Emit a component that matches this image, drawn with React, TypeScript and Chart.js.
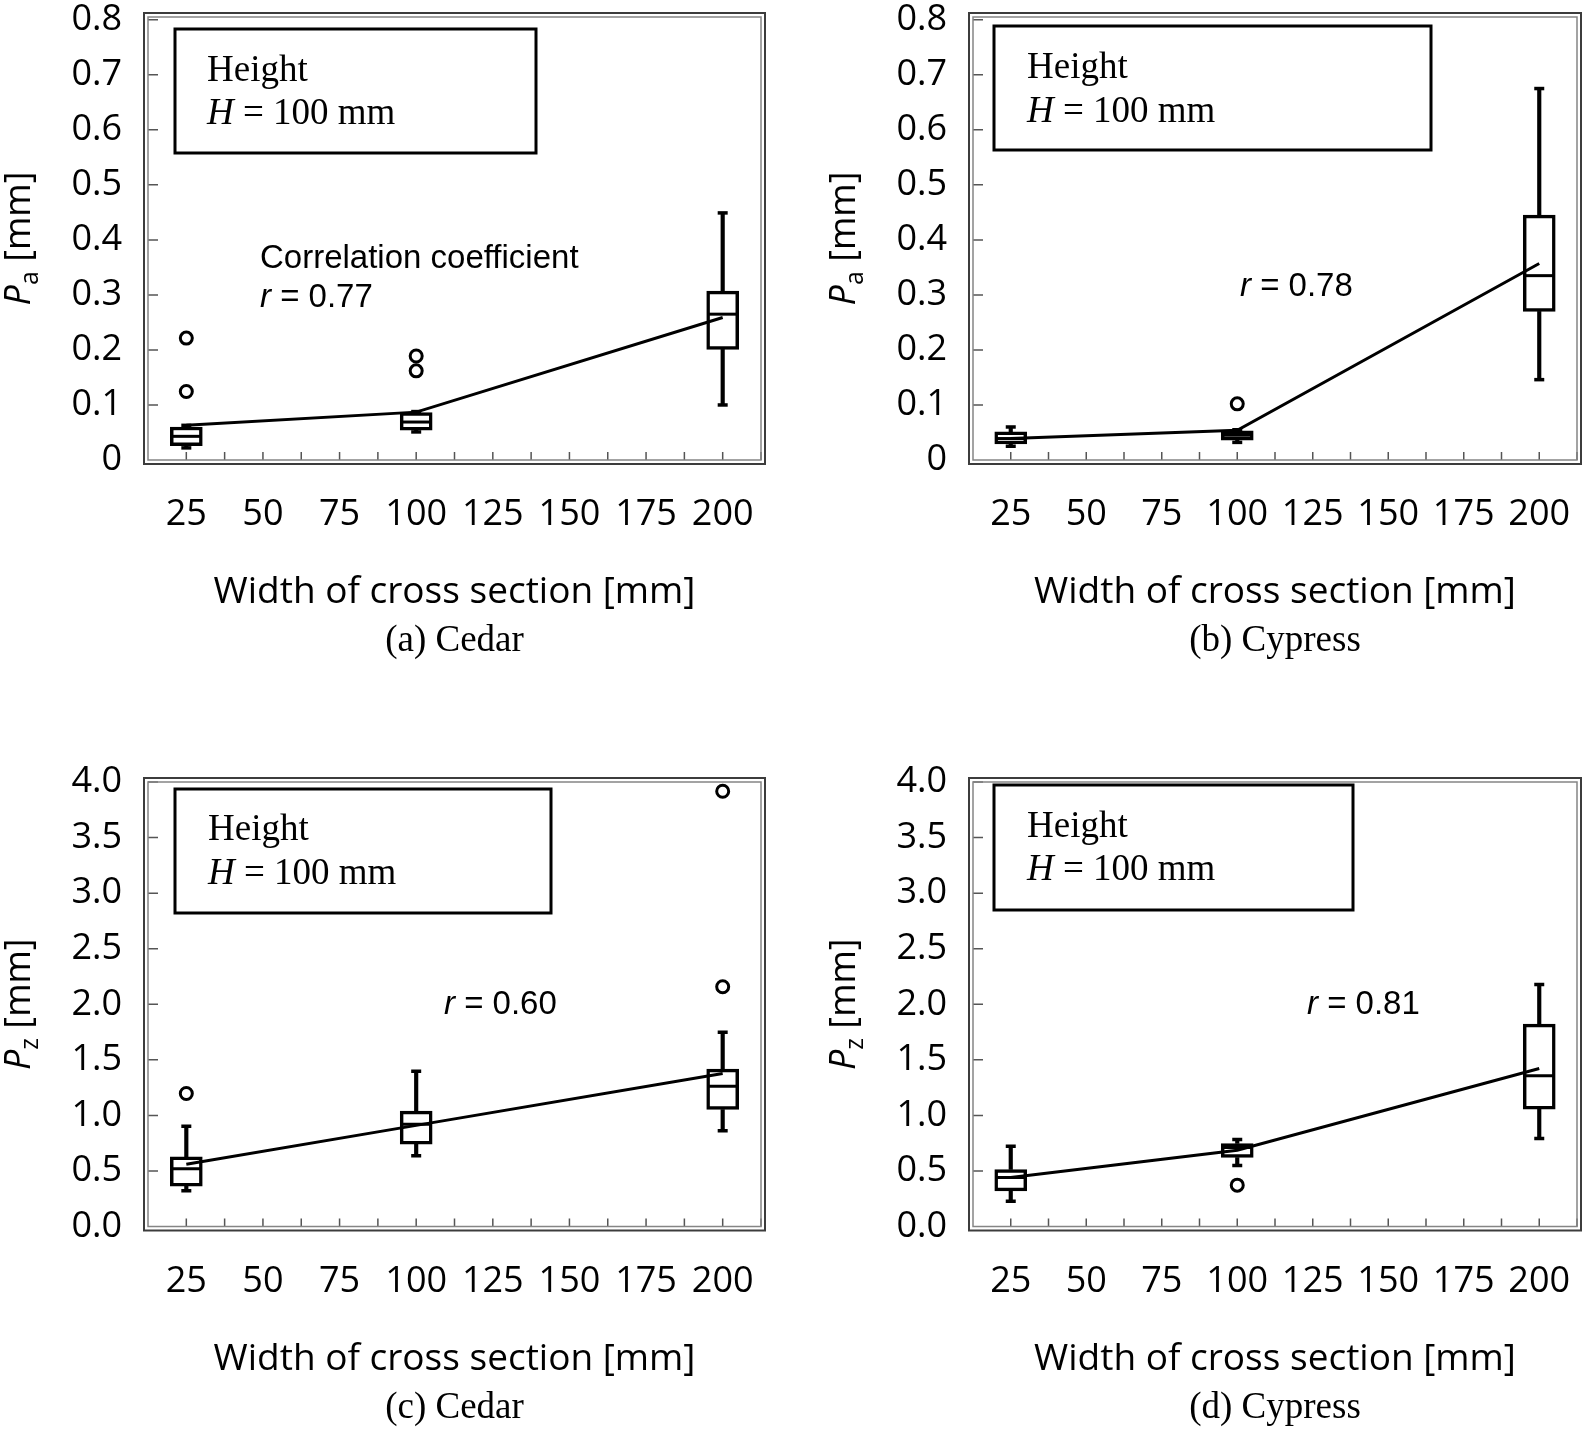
import React, { useEffect, useRef } from 'react';
import { Chart, registerables } from 'chart.js';

Chart.register(...registerables);

// ---------- data ----------
const widths = [25, 100, 200];
const xTickLabels = [25, 50, 75, 100, 125, 150, 175, 200];
const xMinorTicks = [25, 37.5, 50, 62.5, 75, 87.5, 100, 112.5, 125, 137.5, 150, 162.5, 175, 187.5, 200, 212.5];
const yTicksPa = [0, 0.1, 0.2, 0.3, 0.4, 0.5, 0.6, 0.7, 0.8];
const yTicksPz = [0, 0.5, 1.0, 1.5, 2.0, 2.5, 3.0, 3.5, 4.0];

// (a) Cedar, Pa
const aLow = [0.022, 0.051, 0.100];
const aQ1 = [0.026, 0.054, 0.201];
const aMed = [0.043, 0.069, 0.265];
const aQ3 = [0.060, 0.086, 0.307];
const aHigh = [0.063, 0.088, 0.449];
const aMean = [0.063, 0.087, 0.259];
const aOutX = [25, 25, 100, 100];
const aOutY = [0.2215, 0.1245, 0.189, 0.162];

// (b) Cypress, Pa
const bLow = [0.025, 0.032, 0.146];
const bQ1 = [0.029, 0.036, 0.270];
const bMed = [0.039, 0.045, 0.335];
const bQ3 = [0.051, 0.053, 0.445];
const bHigh = [0.060, 0.055, 0.675];
const bMean = [0.039, 0.054, 0.357];
const bOutX = [100];
const bOutY = [0.102];

// (c) Cedar, Pz
const cLow = [0.321, 0.636, 0.861];
const cQ1 = [0.363, 0.741, 1.053];
const cMed = [0.519, 0.921, 1.263];
const cQ3 = [0.627, 1.038, 1.416];
const cHigh = [0.903, 1.398, 1.749];
const cMean = [0.561, 0.91, 1.377];
const cOutX = [25, 200, 200];
const cOutY = [1.197, 2.157, 3.917];

// (d) Cypress, Pz
const dLow = [0.228, 0.549, 0.792];
const dQ1 = [0.321, 0.621, 1.056];
const dMed = [0.441, 0.71, 1.356];
const dQ3 = [0.513, 0.747, 1.821];
const dHigh = [0.723, 0.783, 2.178];
const dMean = [0.441, 0.687, 1.422];
const dOutX = [100];
const dOutY = [0.372];

// ---------- panel setup ----------
type Note = { x: number; y: number; italic: string; rest: string };
type PanelCfg = {
  left: number; top: number;
  pad: { left: number; top: number; right: number; bottom: number };
  yMax: number; yTicks: number[]; yFmt: (v: number) => string; sub: string;
  low: number[]; q1: number[]; med: number[]; q3: number[]; high: number[]; mean: number[];
  outX: number[]; outY: number[];
  caption: string;
  box: { x: number; y: number; w: number; h: number };
  textX: number; line1: number; line2: number;
  notes: Note[];
};

const fmtPa = (v: number) => (v === 0 ? '0' : v.toFixed(1));
const fmtPz = (v: number) => v.toFixed(1);

const panels: PanelCfg[] = [
  {
    left: 0, top: 0, pad: { left: 28, top: 12, right: 36, bottom: 55 },
    yMax: 0.805, yTicks: yTicksPa, yFmt: fmtPa, sub: 'a',
    low: aLow, q1: aQ1, med: aMed, q3: aQ3, high: aHigh, mean: aMean, outX: aOutX, outY: aOutY,
    caption: '(a) Cedar',
    box: { x: 27, y: 12, w: 361, h: 124 }, textX: 59, line1: 64, line2: 107,
    notes: [
      { x: 112, y: 251, italic: '', rest: 'Correlation coefficient' },
      { x: 112, y: 290, italic: 'r', rest: ' = 0.77' },
    ],
  },
  {
    left: 797, top: 0, pad: { left: 56, top: 12, right: 8, bottom: 55 },
    yMax: 0.805, yTicks: yTicksPa, yFmt: fmtPa, sub: 'a',
    low: bLow, q1: bQ1, med: bMed, q3: bQ3, high: bHigh, mean: bMean, outX: bOutX, outY: bOutY,
    caption: '(b) Cypress',
    box: { x: 21, y: 9, w: 437, h: 124 }, textX: 54, line1: 61, line2: 105,
    notes: [{ x: 267, y: 279, italic: 'r', rest: ' = 0.78' }],
  },
  {
    left: 0, top: 715, pad: { left: 28, top: 67, right: 36, bottom: 3.5 },
    yMax: 4.0, yTicks: yTicksPz, yFmt: fmtPz, sub: 'z',
    low: cLow, q1: cQ1, med: cMed, q3: cQ3, high: cHigh, mean: cMean, outX: cOutX, outY: cOutY,
    caption: '(c) Cedar',
    box: { x: 27, y: 7, w: 376, h: 124 }, textX: 60, line1: 58, line2: 102,
    notes: [{ x: 296, y: 232, italic: 'r', rest: ' = 0.60' }],
  },
  {
    left: 797, top: 715, pad: { left: 56, top: 67, right: 8, bottom: 3.5 },
    yMax: 4.0, yTicks: yTicksPz, yFmt: fmtPz, sub: 'z',
    low: dLow, q1: dQ1, med: dMed, q3: dQ3, high: dHigh, mean: dMean, outX: dOutX, outY: dOutY,
    caption: '(d) Cypress',
    box: { x: 21, y: 3, w: 359, h: 125 }, textX: 54, line1: 55, line2: 98,
    notes: [{ x: 334, y: 232, italic: 'r', rest: ' = 0.81' }],
  },
];

const SANS = '"Open Sans"';
const SERIF = '"Liberation Serif"';
const ARIAL = '"Liberation Sans"';

function decorPlugin(p: PanelCfg) {
  return {
    id: 'decor',
    beforeDatasetsDraw(chart: any) {
      const { ctx, chartArea: ca, scales } = chart;
      const xs = scales.x;
      const ys = scales.y;
      ctx.save();
      ctx.strokeStyle = '#555';
      ctx.lineWidth = 1.5;
      ctx.beginPath();
      for (const v of xMinorTicks) {
        const px = xs.getPixelForValue(v);
        ctx.moveTo(px, ca.bottom);
        ctx.lineTo(px, ca.bottom - 8);
      }
      for (const v of p.yTicks) {
        if (v === 0) continue;
        const py = ys.getPixelForValue(v);
        ctx.moveTo(ca.left, py);
        ctx.lineTo(ca.left + 10, py);
      }
      ctx.stroke();
      ctx.strokeStyle = '#858585';
      ctx.lineWidth = 1.5;
      ctx.strokeRect(ca.left, ca.top, ca.right - ca.left, ca.bottom - ca.top);
      ctx.strokeStyle = '#3c3c3c';
      ctx.lineWidth = 2;
      ctx.strokeRect(ca.left - 4, ca.top - 4, ca.right - ca.left + 8, ca.bottom - ca.top + 8);
      ctx.restore();
    },
    afterDraw(chart: any) {
      const { ctx, chartArea: ca } = chart;
      ctx.save();
      ctx.fillStyle = '#000';
      ctx.strokeStyle = '#000';
      // annotation box
      ctx.lineWidth = 3;
      ctx.strokeRect(ca.left + p.box.x, ca.top + p.box.y, p.box.w, p.box.h);
      ctx.textBaseline = 'alphabetic';
      ctx.textAlign = 'left';
      ctx.font = `37px ${SERIF}`;
      ctx.fillText('Height', ca.left + p.textX, ca.top + p.line1);
      ctx.font = `italic 37px ${SERIF}`;
      const wH = ctx.measureText('H').width;
      ctx.fillText('H', ca.left + p.textX, ca.top + p.line2);
      ctx.font = `37px ${SERIF}`;
      ctx.fillText(' = 100 mm', ca.left + p.textX + wH, ca.top + p.line2);
      // correlation notes
      for (const n of p.notes) {
        let x = ca.left + n.x;
        const y = ca.top + n.y;
        if (n.italic) {
          ctx.font = `italic 33px ${ARIAL}`;
          ctx.fillText(n.italic, x, y);
          x += ctx.measureText(n.italic).width;
        }
        ctx.font = `33px ${ARIAL}`;
        ctx.fillText(n.rest, x, y);
      }
      // caption
      ctx.textAlign = 'center';
      ctx.font = `37px ${SERIF}`;
      ctx.fillText(p.caption, (ca.left + ca.right) / 2, ca.bottom + 191);
      // y axis title
      ctx.translate(ca.left - 118, (ca.top + ca.bottom) / 2);
      ctx.rotate(-Math.PI / 2);
      ctx.textAlign = 'left';
      const fIt = `italic 500 36px ${SANS}`;
      const fSub = `500 25px ${SANS}`;
      const fMain = `500 36px ${SANS}`;
      ctx.font = fIt;
      const wP = ctx.measureText('P').width;
      ctx.font = fSub;
      const wS = ctx.measureText(p.sub).width;
      ctx.font = fMain;
      const wR = ctx.measureText(' [mm]').width;
      let x0 = -(wP + wS + wR) / 2;
      ctx.font = fIt;
      ctx.fillText('P', x0, 0);
      x0 += wP;
      ctx.font = fSub;
      ctx.fillText(p.sub, x0, 8);
      x0 += wS;
      ctx.font = fMain;
      ctx.fillText(' [mm]', x0, 0);
      ctx.restore();
    },
  };
}

function buildConfig(p: PanelCfg): any {
  const boxes = widths.map((x, i) => ({ x, y: [p.q1[i], p.q3[i]] }));
  const whiskers: any[] = [];
  const caps: any[] = [];
  widths.forEach((x, i) => {
    whiskers.push({ x, y: [p.q3[i], p.high[i]] });
    whiskers.push({ x, y: [p.low[i], p.q1[i]] });
    caps.push({ x, y: p.high[i] });
    caps.push({ x, y: p.low[i] });
  });
  const medians = widths.map((x, i) => ({ x, y: p.med[i] }));
  const means = widths.map((x, i) => ({ x, y: p.mean[i] }));
  const outliers = p.outX.map((x, i) => ({ x, y: p.outY[i] }));

  const tickFont = { family: 'Open Sans', size: 36, lineHeight: 1, weight: 500 };

  return {
    type: 'bar',
    data: {
      datasets: [
        { type: 'line', data: means, borderColor: '#000', borderWidth: 3, pointRadius: 0, fill: false, tension: 0, order: 1 },
        { type: 'scatter', data: outliers, pointStyle: 'circle', pointRadius: 6, borderWidth: 3, borderColor: '#000', backgroundColor: '#fff', order: 2 },
        { type: 'scatter', data: medians, pointStyle: 'line', pointRadius: 14, borderWidth: 3, borderColor: '#000', order: 3 },
        { type: 'scatter', data: caps, pointStyle: 'line', pointRadius: 5, borderWidth: 3.5, borderColor: '#000', order: 3 },
        { type: 'bar', data: boxes, barThickness: 32, backgroundColor: '#fff', borderColor: '#000', borderWidth: 3.5, borderSkipped: false, grouped: false, order: 4 },
        { type: 'bar', data: whiskers, barThickness: 3.5, backgroundColor: '#000', borderWidth: 0, grouped: false, order: 5 },
      ],
    },
    options: {
      responsive: false,
      animation: false,
      events: [],
      layout: { padding: p.pad },
      plugins: { legend: { display: false }, tooltip: { enabled: false }, title: { display: false } },
      scales: {
        x: {
          type: 'linear', min: 12.5, max: 212.5, offset: false,
          afterBuildTicks: (s: any) => { s.ticks = xTickLabels.map((v) => ({ value: v })); },
          afterFit: (s: any) => { s.height = 200; s.paddingLeft = 0; s.paddingRight = 0; },
          grid: { display: true, drawOnChartArea: false, drawTicks: true, tickLength: 37, color: 'rgba(0,0,0,0)', offset: false },
          border: { display: false },
          ticks: {
            padding: 0, autoSkip: false, maxRotation: 0, minRotation: 0, color: '#000',
            font: tickFont,
            callback: (v: any) => String(v),
          },
          title: {
            display: true, text: 'Width of cross section [mm]', color: '#000',
            font: { family: 'Open Sans', size: 37, lineHeight: 1, weight: 500 },
            padding: { top: 0, bottom: 49 },
          },
        },
        y: {
          type: 'linear', min: 0, max: p.yMax,
          afterBuildTicks: (s: any) => { s.ticks = p.yTicks.map((v) => ({ value: v })); },
          afterFit: (s: any) => { s.width = 120; s.paddingTop = 0; s.paddingBottom = 0; },
          grid: { display: true, drawOnChartArea: false, drawTicks: true, tickLength: 26, color: 'rgba(0,0,0,0)' },
          border: { display: false },
          ticks: {
            padding: 0, autoSkip: false, color: '#000',
            font: tickFont,
            callback: (v: any) => p.yFmt(Number(v)),
          },
        },
      },
    },
    plugins: [decorPlugin(p)],
  };
}

function PanelChart({ cfg }: { cfg: PanelCfg }) {
  const ref = useRef<HTMLCanvasElement>(null);
  useEffect(() => {
    const chart = new Chart(ref.current as HTMLCanvasElement, buildConfig(cfg));
    return () => chart.destroy();
  }, [cfg]);
  return (
    <div style={{ position: 'absolute', left: cfg.left, top: cfg.top, width: 797, height: 715 }}>
      <canvas ref={ref} width={797} height={715} style={{ display: 'block', width: 797, height: 715 }} />
    </div>
  );
}

export default function App() {
  return (
    <div style={{ position: 'absolute', left: 0, top: 0, width: 1594, height: 1430, background: '#fff' }}>
      {panels.map((p, i) => (
        <PanelChart key={i} cfg={p} />
      ))}
    </div>
  );
}
